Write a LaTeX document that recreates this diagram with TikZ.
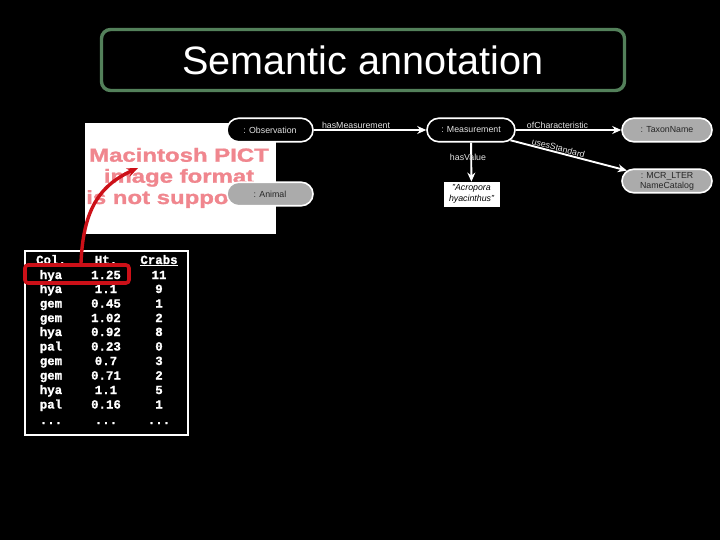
\documentclass[tikz,border=0pt]{standalone}
\usepackage{fontspec}
\setmainfont{Liberation Sans}
\newfontfamily\tablefont{Liberation Mono}[BoldFeatures={FakeBold=1.2}]
\newfontfamily\pictfont{Liberation Sans}[BoldFeatures={FakeBold=1.2}]
\usetikzlibrary{arrows.meta,shapes.misc}
\definecolor{titlegreen}{HTML}{53805A}
\definecolor{pictpink}{HTML}{F0868E}
\definecolor{hlred}{HTML}{CC1018}
\definecolor{greynode}{HTML}{ABABAB}
\definecolor{labelgrey}{HTML}{E4E4E4}
\tikzset{
  classbox/.style={rounded rectangle,draw=white,line width=1.6pt,fill=black,text=labelgrey,
    font=\fontsize{8.8}{10}\selectfont,minimum height=23.5pt,inner sep=0pt,align=center},
  greybox/.style={classbox,fill=greynode,text=black!85},
  litbox/.style={draw=white,line width=0.8pt,fill=white,text=black,font=\fontsize{8.8}{11}\itshape\selectfont,
    minimum width=55pt,minimum height=24pt,inner sep=0pt,align=center},
  rel/.style={draw=white,line width=1.9pt,-{Stealth[length=9pt,width=8pt]}},
  rellabel/.style={text=labelgrey,font=\fontsize{8.8}{10}\selectfont,inner sep=0pt},
  cell/.style={text=white,font=\fontsize{12.4}{13}\tablefont\bfseries\selectfont,inner sep=0pt,anchor=base},
  picttext/.style={text=pictpink,font=\fontsize{19}{21}\pictfont\bfseries\selectfont,inner sep=0pt,xscale=1.26,anchor=base west}
}
\begin{document}
\begin{tikzpicture}[x=1pt,y=-1pt]
\useasboundingbox (0,0) rectangle (720,540);
\fill[black] (0,0) rectangle (720,540);
% title
\node[draw=titlegreen,line width=3.4pt,rounded corners=9pt,minimum width=523pt,minimum height=61pt,
  inner sep=0pt,text=white,font=\fontsize{39.6}{44}\selectfont] (title) at (363,60) {Semantic annotation};
% placeholder picture
\node[fill=white,minimum width=191pt,minimum height=111pt,inner sep=0pt] (pict) at (180.5,178.5) {};
\node[picttext,anchor=base] (p1) at (179,161.7) {Macintosh PICT};
\node[picttext,anchor=base] (p2) at (179,182.7) {image format};
\node[picttext] (p3) at (86,204) {is not suppo};
% graph
\node[classbox,minimum width=86pt] (obs) at (270,130) {: Observation};
\node[greybox,minimum width=86pt] (animal) at (270,194) {: Animal};
\node[classbox,minimum width=88pt] (meas) at (471,130) {: Measurement};
\node[greybox,minimum width=90pt] (taxon) at (667,130) {: TaxonName};
\node[greybox,minimum width=90pt] (mcr) at (667,181) {: MCR\_LTER\\NameCatalog};
\node[litbox] (lit) at (471.5,194) {"Acropora\\hyacinthus"};
\draw[rel] (obs) -- (meas);
\draw[rel] (meas) -- (taxon);
\draw[rel] (meas) -- (mcr);
\draw[rel] (meas) -- (lit);
\node[rellabel] (l1) at (356,125) {hasMeasurement};
\node[rellabel] (l2) at (557.5,125) {ofCharacteristic};
\node[rellabel,rotate=-15] (l3) at (558.5,148) {usesStandard};
\node[rellabel] (l4) at (468,157) {hasValue};
% table
\node[draw=white,line width=1.8pt,minimum width=163pt,minimum height=184pt,inner sep=0pt] (tbl) at (106.5,343) {};
\node[cell] (h1) at (51,264) {\underline{Col.}};
\node[cell] (h2) at (106,264) {\underline{Ht.}};
\node[cell] (h3) at (159,264) {\underline{Crabs}};
\foreach \yy/\a/\b/\c [count=\i] in {279/hya/1.25/11,293/hya/1.1/9,307.5/gem/0.45/1,322/gem/1.02/2,336/hya/0.92/8,350.5/pal/0.23/0,365/gem/0.7/3,379.5/gem/0.71/2,394/hya/1.1/5,408.5/pal/0.16/1}{
  \node[cell] (ca\i) at (51,\yy) {\a};
  \node[cell] (cb\i) at (106,\yy) {\b};
  \node[cell] (cc\i) at (159,\yy) {\c};
}
\node[cell] (da) at (51,424) {{.}{.}{.}};
\node[cell] (db) at (106,424) {{.}{.}{.}};
\node[cell] (dc) at (159,424) {{.}{.}{.}};
% highlight
\node[draw=hlred,line width=3.6pt,rounded corners=3pt,minimum width=104pt,minimum height=18pt,inner sep=0pt] (hl) at (77,274) {};
\coordinate (tip) at (138,168);
\draw[hlred,line width=3.4pt,-{Stealth[length=11pt,width=9pt]}] ([xshift=4pt]hl.north) .. controls (83,212) and (98,186) .. (tip);
\end{tikzpicture}
\end{document}
